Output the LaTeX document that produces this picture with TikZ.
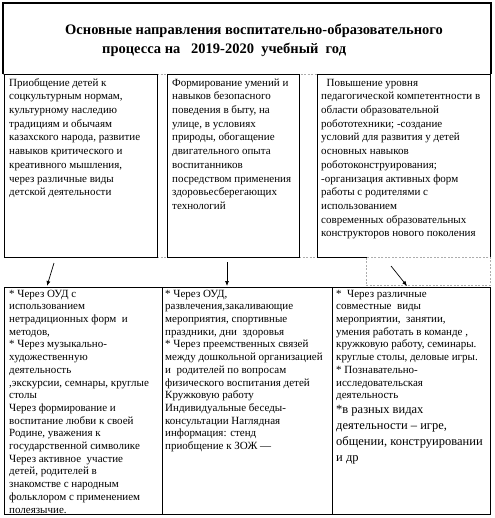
\documentclass[tikz,border=0pt]{standalone}
\usepackage{fontspec}
\setmainfont{Liberation Serif}
\usetikzlibrary{arrows.meta}
\begin{document}
\begin{tikzpicture}[x=1pt,y=-1pt,
  box/.style={draw=black, line width=0.9pt, anchor=north west, inner sep=0pt},
  gapline/.style={draw=gray!65, dash pattern=on 2pt off 1.5pt, line width=0.8pt},
  txt/.style={anchor=north west, inner sep=0pt, align=left, font=\fontsize{11}{13.7}\selectfont},
  txtb/.style={anchor=north west, inner sep=0pt, align=left, font=\fontsize{11}{12.7}\selectfont},
  txtl/.style={anchor=north west, inner sep=0pt, align=left, font=\fontsize{12.5}{16}\selectfont},
  ttl/.style={anchor=base west, inner sep=0pt, font=\bfseries\fontsize{14.5}{18}\selectfont},
  arr/.style={line width=0.7pt, -{Latex[length=5pt,width=4pt]}}]
\useasboundingbox (0,0) rectangle (494,518);
% title frame
\draw[gapline] (3,74) -- (491,74);
\draw[line width=1.2pt] (3,74) -- (3,3) -- (491,3) -- (491,74);
\node[ttl] (t1) at (65,35) {Основные направления воспитательно-образовательного};
\node[ttl] (t2) at (102,54) {процесса на\ \ \ 2019-2020\ \ учебный\ \ год};
% gap dashes
\draw[gapline] (157,257) -- (167,257);
\draw[gapline] (299,257) -- (317,257);
% top boxes
\node[box, minimum width=153pt, minimum height=183pt] (b1) at (4,74) {};
\node[box, minimum width=132pt, minimum height=183pt] (b2) at (167,74) {};
\node[box, minimum width=173pt, minimum height=183pt] (b3) at (317,74) {};
\draw[white, line width=1.6pt] (367,257) -- (489.5,257);
\node[draw=gray!65, dash pattern=on 2pt off 1.5pt, line width=0.8pt, anchor=north west, inner sep=0pt, minimum width=124pt, minimum height=28pt] (d) at (366,257) {};
% bottom boxes
\node[box, minimum width=158pt, minimum height=227pt] (c1) at (4,287) {};
\node[box, minimum width=170pt, minimum height=227pt] (c2) at (162,287) {};
\node[box, minimum width=158pt, minimum height=227pt] (c3) at (332,287) {};
% texts top
\node[txt] (b1t) at (9,76.4) {\strut Приобщение детей к\\
соцкультурным нормам,\\
культурному наследию\\
традициям и обычаям\\
казахского народа, развитие\\
навыков критического и\\
креативного мышления,\\
через различные виды\\
детской деятельности};
\node[txt] (b2t) at (172,76.4) {\strut Формирование умений и\\
навыков безопасного\\
поведения в быту, на\\
улице, в условиях\\
природы, обогащение\\
двигательного опыта\\
воспитанников\\
посредством применения\\
здоровьесберегающих\\
технологий};
\node[txt] (b3t) at (321,76.4) {\strut \ \ Повышение уровня\\
педагогической компетентности в\\
области образовательной\\
робототехники; -создание\\
условий для развития у детей\\
основных навыков\\
роботоконструирования;\\
-организация активных форм\\
работы с родителями с\\
использованием\\
современных образовательных\\
конструкторов нового поколения};
% texts bottom
\node[txtb] (c1t) at (9,288.1) {\strut * Через ОУД с\\
использованием\\
нетрадиционных форм\ \ и\\
методов,\\
* Через музыкально-\\
художественную\\
деятельность\\
,экскурсии, семнары, круглые\\
столы\\
Через формирование и\\
воспитание любви к своей\\
Родине, уважения к\\
государственной символике\\
Через активное\ \ участие\\
детей, родителей в\\
знакомстве с народным\\
фольклором с применением\\
полеязычие.};
\node[txtb] (c2t) at (165,288.1) {\strut * Через ОУД,\\
развлечения,закаливающие\\
мероприятия, спортивные\\
праздники, дни\ \ здоровья\\
* Через преемственных связей\\
между дошкольной организацией\\
и\ \ родителей по вопросам\\
физического воспитания детей\\
Кружковую работу\\
Индивидуальные беседы-\\
консультации Наглядная\\
информация: стенд\\
приобщение к ЗОЖ —};
\node[txtb] (c3t) at (336,288.1) {\strut *\ \ Через различные\\
совместные\ \ виды\\
мероприятии,\ \ занятии,\\
умения работать в команде ,\\
кружковую работу, семинары.\\
круглые столы, деловые игры.\\
* Познавательно-\\
исследовательская\\
деятельность};
\node[txtl] (c3u) at (336,401.8) {\strut *в разных видах\\
деятельности – игре,\\
общении, конструировании\\
и др};
% arrows
\coordinate (a1s) at (54,263);
\coordinate (a1e) at (47,286);
\coordinate (a2s) at (227,262);
\coordinate (a2e) at (227,286);
\coordinate (a3s) at (391,266);
\coordinate (a3e) at (407,286);
\draw[arr] (a1s) -- (a1e);
\draw[arr] (a2s) -- (a2e);
\draw[arr] (a3s) -- (a3e);
\end{tikzpicture}
\end{document}
